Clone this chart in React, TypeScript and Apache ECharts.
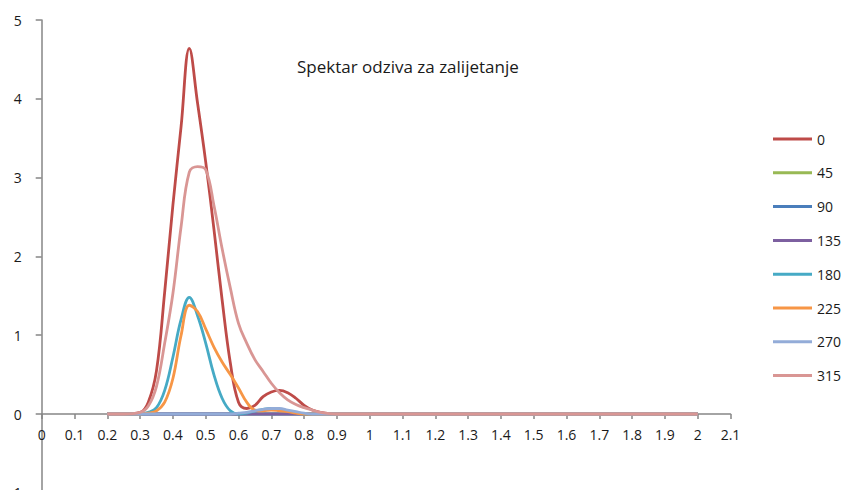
import React, { useEffect, useRef } from "react";
import * as echarts from "echarts";

const xValues = [
  0.2, 0.25, 0.3, 0.325, 0.35, 0.375, 0.4, 0.425, 0.45, 0.475, 0.5, 0.525, 0.55, 0.575, 0.6, 0.625, 0.65, 0.675,
  0.7, 0.725, 0.75, 0.775, 0.8, 0.825, 0.85, 0.9, 1.0, 1.1, 1.2, 1.3, 1.4, 1.5, 1.6, 1.7, 1.8, 1.9, 2.0,
];

const seriesNames = ["0", "45", "90", "135", "180", "225", "270", "315"];

const s0 = [
  0, 0, 0.02, 0.15, 0.55, 1.55, 2.65, 3.65, 4.64, 3.95, 3.2, 2.35, 1.45, 0.65, 0.15, 0.07, 0.11, 0.22, 0.28, 0.3,
  0.27, 0.2, 0.11, 0.05, 0.02, 0, 0, 0, 0, 0, 0, 0, 0, 0, 0, 0, 0,
];
const s45 = [
  0, 0, 0, 0, 0, 0, 0, 0, 0, 0, 0, 0, 0, 0, 0, 0, 0, 0, 0, 0, 0, 0, 0, 0, 0, 0, 0, 0, 0, 0, 0, 0, 0, 0, 0, 0, 0,
];
const s90 = [
  0, 0, 0, 0, 0, 0, 0, 0, 0, 0, 0, 0, 0, 0, 0, 0, 0, 0, 0, 0, 0, 0, 0, 0, 0, 0, 0, 0, 0, 0, 0, 0, 0, 0, 0, 0, 0,
];
const s135 = [
  0, 0, 0, 0, 0, 0, 0, 0, 0, 0, 0, 0, 0, 0, 0, 0, 0, 0, 0, 0, 0, 0, 0, 0, 0, 0, 0, 0, 0, 0, 0, 0, 0, 0, 0, 0, 0,
];
const s180 = [
  0, 0, 0, 0.02, 0.08, 0.3, 0.72, 1.2, 1.48, 1.25, 0.9, 0.5, 0.2, 0.04, 0, 0.01, 0.04, 0.06, 0.07, 0.06, 0.04, 0.02,
  0, 0, 0, 0, 0, 0, 0, 0, 0, 0, 0, 0, 0, 0, 0,
];
const s225 = [
  0, 0, 0, 0.01, 0.04, 0.15, 0.45, 1.0, 1.38, 1.3, 1.08, 0.85, 0.66, 0.5, 0.33, 0.15, 0.05, 0.04, 0.05, 0.04, 0.03,
  0.01, 0, 0, 0, 0, 0, 0, 0, 0, 0, 0, 0, 0, 0, 0, 0,
];
const s270 = [
  0, 0, 0, 0, 0, 0, 0, 0, 0, 0, 0, 0, 0, 0, 0.01, 0.02, 0.04, 0.06, 0.07, 0.07, 0.05, 0.03, 0.01, 0, 0, 0, 0, 0, 0, 0,
  0, 0, 0, 0, 0, 0, 0,
];
const s315 = [
  0, 0, 0.02, 0.1, 0.35, 0.9, 1.53, 2.38, 3.07, 3.14, 3.1, 2.65, 2.1, 1.6, 1.15, 0.9, 0.69, 0.54, 0.39, 0.27, 0.18,
  0.12, 0.08, 0.05, 0.02, 0, 0, 0, 0, 0, 0, 0, 0, 0, 0, 0, 0,
];

const seriesValues = [s0, s45, s90, s135, s180, s225, s270, s315];
const seriesColors = ["#BE4B48", "#98B954", "#4A7EBB", "#7D60A0", "#46AAC5", "#F79646", "#93ACD8", "#D99694"];

const titleText = "Spektar odziva za zalijetanje";

export default function App() {
  const ref = useRef<HTMLDivElement>(null);
  useEffect(() => {
    document.body.style.margin = "0";
    if (!ref.current) return;
    const chart = echarts.init(ref.current, undefined, { renderer: "svg" });
    const font = "Open Sans";
    chart.setOption({
      animation: false,
      backgroundColor: "#ffffff",
      title: {
        text: titleText,
        left: 297,
        top: 58,
        padding: 0,
        textStyle: { fontFamily: font, fontSize: 17, fontWeight: "normal", color: "#1a1a1a" },
      },
      legend: {
        orient: "vertical",
        left: 768,
        top: 127,
        icon: "rect",
        itemWidth: 39,
        itemHeight: 3,
        itemGap: 19.8,
        textStyle: { fontFamily: font, fontSize: 14, color: "#1a1a1a" },
        data: seriesNames,
      },
      grid: { left: 41.7, top: 20, width: 688.8, height: 472.8, containLabel: false, outerBoundsMode: "none" },
      xAxis: {
        type: "value",
        min: 0,
        max: 2.1,
        interval: 0.1,
        offset: -78.8,
        axisLine: { onZero: false, lineStyle: { color: "#868686", width: 1.5 } },
        axisTick: { show: true, inside: false, length: 5, lineStyle: { color: "#868686", width: 1.5 } },
        axisLabel: { fontFamily: font, fontSize: 14, color: "#1a1a1a", margin: 13 },
        splitLine: { show: false },
      },
      yAxis: {
        type: "value",
        min: -1,
        max: 5,
        interval: 1,
        axisLine: { show: true, onZero: false, lineStyle: { color: "#868686", width: 1.5 } },
        axisTick: { show: true, inside: false, length: 6, lineStyle: { color: "#868686", width: 1.5 } },
        axisLabel: { fontFamily: font, fontSize: 14, color: "#1a1a1a", margin: 20 },
        splitLine: { show: false },
      },
      series: seriesNames.map((name, i) => ({
        name,
        type: "line",
        smooth: 0.4,
        symbol: "none",
        showSymbol: false,
        lineStyle: { width: 2.8, color: seriesColors[i] },
        itemStyle: { color: seriesColors[i] },
        data: xValues.map((x, j) => [x, seriesValues[i][j]]),
      })),
    });
    return () => chart.dispose();
  }, []);
  return <div ref={ref} style={{ width: 844, height: 490 }} />;
}
